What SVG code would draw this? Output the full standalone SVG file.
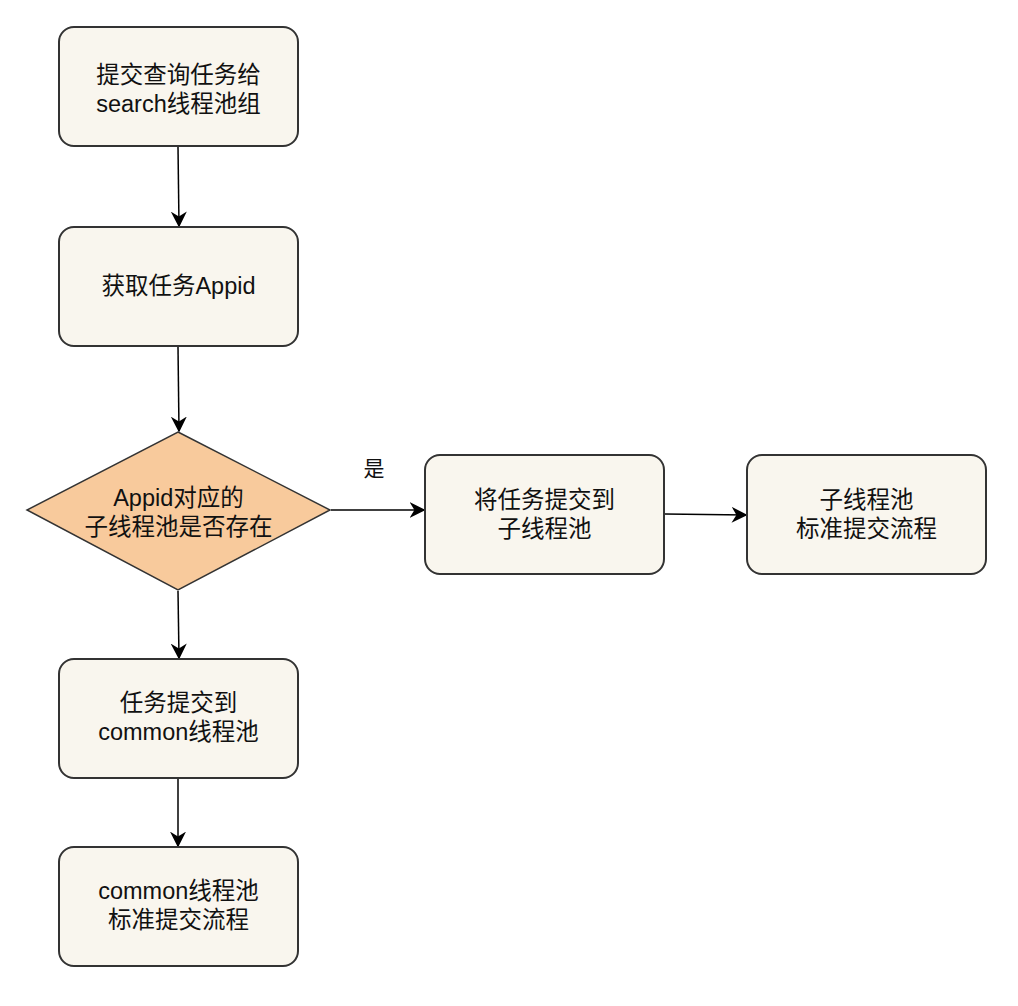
<svg xmlns="http://www.w3.org/2000/svg" width="1018" height="1006" viewBox="0 0 1018 1006">
<style>
.n{fill:#f9f6ee;stroke:#333;stroke-width:2}
.d{fill:#f8ca9c;stroke:#333;stroke-width:1.5}
.t{font-family:"Liberation Sans","Noto Sans CJK SC",sans-serif;font-size:23.5px;fill:#111;text-anchor:middle}
.s{font-family:"Liberation Sans","Noto Sans CJK SC",sans-serif;font-size:21px;fill:#111;text-anchor:middle}
.c{stroke:#000;stroke-width:1.5;fill:none;marker-end:url(#a)}
</style>
<defs>
<marker id="a" viewBox="0 0 10 10" refX="9" refY="5" markerWidth="16" markerHeight="16" markerUnits="userSpaceOnUse" orient="auto">
<path d="M0,0 L10,5 L0,10 L3,5 Z" fill="#000"/>
</marker>
</defs>
<rect width="1018" height="1006" fill="#fff"/>
<g id="connectors">
<line class="c" x1="178" y1="147" x2="179" y2="226"/>
<line class="c" x1="178" y1="347" x2="179" y2="431"/>
<line class="c" x1="331" y1="510" x2="424" y2="510"/>
<line class="c" x1="665" y1="514" x2="746" y2="515"/>
<line class="c" x1="178" y1="591" x2="179" y2="658"/>
<line class="c" x1="178" y1="779" x2="178" y2="846"/>
<text class="s" x="374" y="476">是</text>
</g>
<g id="n1"><rect class="n" x="59" y="27" width="239" height="119" rx="15"/><text class="t" x="178.5" y="83">提交查询任务给</text><text class="t" x="178.5" y="112">search线程池组</text></g>
<g id="n2"><rect class="n" x="59" y="227" width="239" height="119" rx="15"/><text class="t" x="178.5" y="294">获取任务Appid</text></g>
<g id="n3"><polygon class="d" points="178,432 330,510 178,590 27,510"/><text class="t" x="178.5" y="506">Appid对应的</text><text class="t" x="178.5" y="535">子线程池是否存在</text></g>
<g id="n4"><rect class="n" x="425" y="455" width="239" height="119" rx="15"/><text class="t" x="544.5" y="508">将任务提交到</text><text class="t" x="544.5" y="537">子线程池</text></g>
<g id="n5"><rect class="n" x="747" y="455" width="239" height="119" rx="15"/><text class="t" x="866.5" y="508">子线程池</text><text class="t" x="866.5" y="537">标准提交流程</text></g>
<g id="n6"><rect class="n" x="59" y="659" width="239" height="119" rx="15"/><text class="t" x="178.5" y="711">任务提交到</text><text class="t" x="178.5" y="740">common线程池</text></g>
<g id="n7"><rect class="n" x="59" y="847" width="239" height="119" rx="15"/><text class="t" x="178.5" y="899">common线程池</text><text class="t" x="178.5" y="928">标准提交流程</text></g>
</svg>
